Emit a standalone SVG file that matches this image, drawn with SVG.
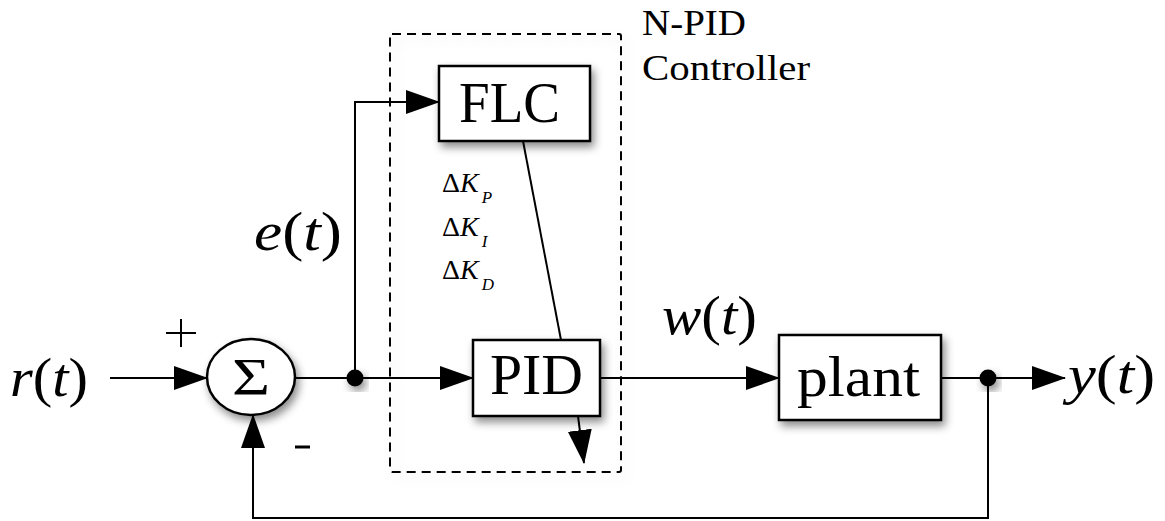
<svg xmlns="http://www.w3.org/2000/svg" width="1165" height="521" viewBox="0 0 1165 521">
<style>
.box{fill:#fff;stroke:#000;stroke-width:2.5}
.ln{fill:none;stroke:#000;stroke-width:2}
.arr{marker-end:url(#ah)}
.t{font-family:'Times New Roman','Liberation Serif',Tinos,'Nimbus Roman',serif;fill:#000}
.it{font-style:italic}
</style>
<defs>
<marker id="ah" markerUnits="userSpaceOnUse" markerWidth="34" markerHeight="24" refX="33" refY="12" orient="auto">
<path d="M0,0 L34,12 L0,24 Z" fill="#000"/>
</marker>
<filter id="sh" x="-20%" y="-20%" width="150%" height="150%">
<feDropShadow dx="3" dy="5" stdDeviation="4" flood-color="#000" flood-opacity="0.45"/>
</filter>
<filter id="sh2" x="-10%" y="-10%" width="130%" height="130%">
<feDropShadow dx="4" dy="5" stdDeviation="6" flood-color="#000" flood-opacity="0.12"/>
</filter>
</defs>
<rect width="1165" height="521" fill="#fff"/>

<g id="npid">
<rect x="390" y="34" width="231" height="438" rx="2" fill="none" stroke="#000" stroke-width="2" stroke-dasharray="9 6" filter="url(#sh2)"/>
<text class="t" x="642" y="35" font-size="36" textLength="104" lengthAdjust="spacingAndGlyphs">N-PID</text>
<text class="t" x="642" y="80" font-size="36" textLength="168" lengthAdjust="spacingAndGlyphs">Controller</text>
</g>

<g id="connectors">
<path class="ln arr" d="M110,378 H207"/>
<path class="ln" d="M295,378 H355"/>
<path class="ln arr" d="M355,378 H473"/>
<path class="ln arr" d="M355,378 V102 H439"/>
<path class="ln" d="M523,141 L561,340"/>
<path class="ln arr" d="M600,378 H779"/>
<path class="ln" d="M941,378 H988"/>
<path class="ln arr" d="M988,378 H1065"/>
<path class="ln arr" d="M988,378 V518 H253 V415"/>
<path class="ln arr" d="M578,416 L584,463"/>
</g>

<g id="sum">
<ellipse cx="251" cy="377" rx="44" ry="38" class="box" stroke-width="2" filter="url(#sh)"/>
<text class="t" x="251" y="395" font-size="52" text-anchor="middle" textLength="38" lengthAdjust="spacingAndGlyphs">Σ</text>
</g>

<g id="dot1"><circle cx="355" cy="378" r="8.5" fill="#000" filter="url(#sh)"/></g>
<g id="dot2"><circle cx="988" cy="378" r="8.5" fill="#000" filter="url(#sh)"/></g>

<g id="flc">
<rect x="439" y="66" width="151" height="75" class="box" filter="url(#sh)"/>
<text class="t" x="459" y="122" font-size="56" textLength="101" lengthAdjust="spacingAndGlyphs">FLC</text>
</g>

<g id="pid">
<rect x="473" y="340" width="127" height="76" class="box" filter="url(#sh)"/>
<text class="t" x="490" y="394" font-size="56" textLength="93" lengthAdjust="spacingAndGlyphs">PID</text>
</g>

<g id="plant">
<rect x="779" y="335" width="162" height="85" class="box" filter="url(#sh)"/>
<text class="t" x="797" y="396" font-size="56" textLength="123" lengthAdjust="spacingAndGlyphs">plant</text>
</g>

<g id="labels">
<text class="t" x="10" y="396" font-size="54" textLength="78" lengthAdjust="spacingAndGlyphs"><tspan class="it">r</tspan>(<tspan class="it">t</tspan>)</text>
<text class="t" x="254" y="250" font-size="54" textLength="88" lengthAdjust="spacingAndGlyphs"><tspan class="it">e</tspan>(<tspan class="it">t</tspan>)</text>
<text class="t" x="662" y="334" font-size="54" textLength="95" lengthAdjust="spacingAndGlyphs"><tspan class="it">w</tspan>(<tspan class="it">t</tspan>)</text>
<text class="t" x="1068" y="393" font-size="54" textLength="87" lengthAdjust="spacingAndGlyphs"><tspan class="it">y</tspan>(<tspan class="it">t</tspan>)</text>
<path class="ln" d="M166,333 H196 M181,319 V347"/>
<path d="M295,447 H310" stroke="#000" stroke-width="3"/>
<text class="t" x="442" y="192" font-size="28">Δ<tspan class="it">K</tspan><tspan class="it" font-size="17" dx="3" dy="11">P</tspan></text>
<text class="t" x="442" y="236" font-size="28">Δ<tspan class="it">K</tspan><tspan class="it" font-size="17" dx="3" dy="11">I</tspan></text>
<text class="t" x="442" y="279" font-size="28">Δ<tspan class="it">K</tspan><tspan class="it" font-size="17" dx="3" dy="11">D</tspan></text>
</g>
</svg>
